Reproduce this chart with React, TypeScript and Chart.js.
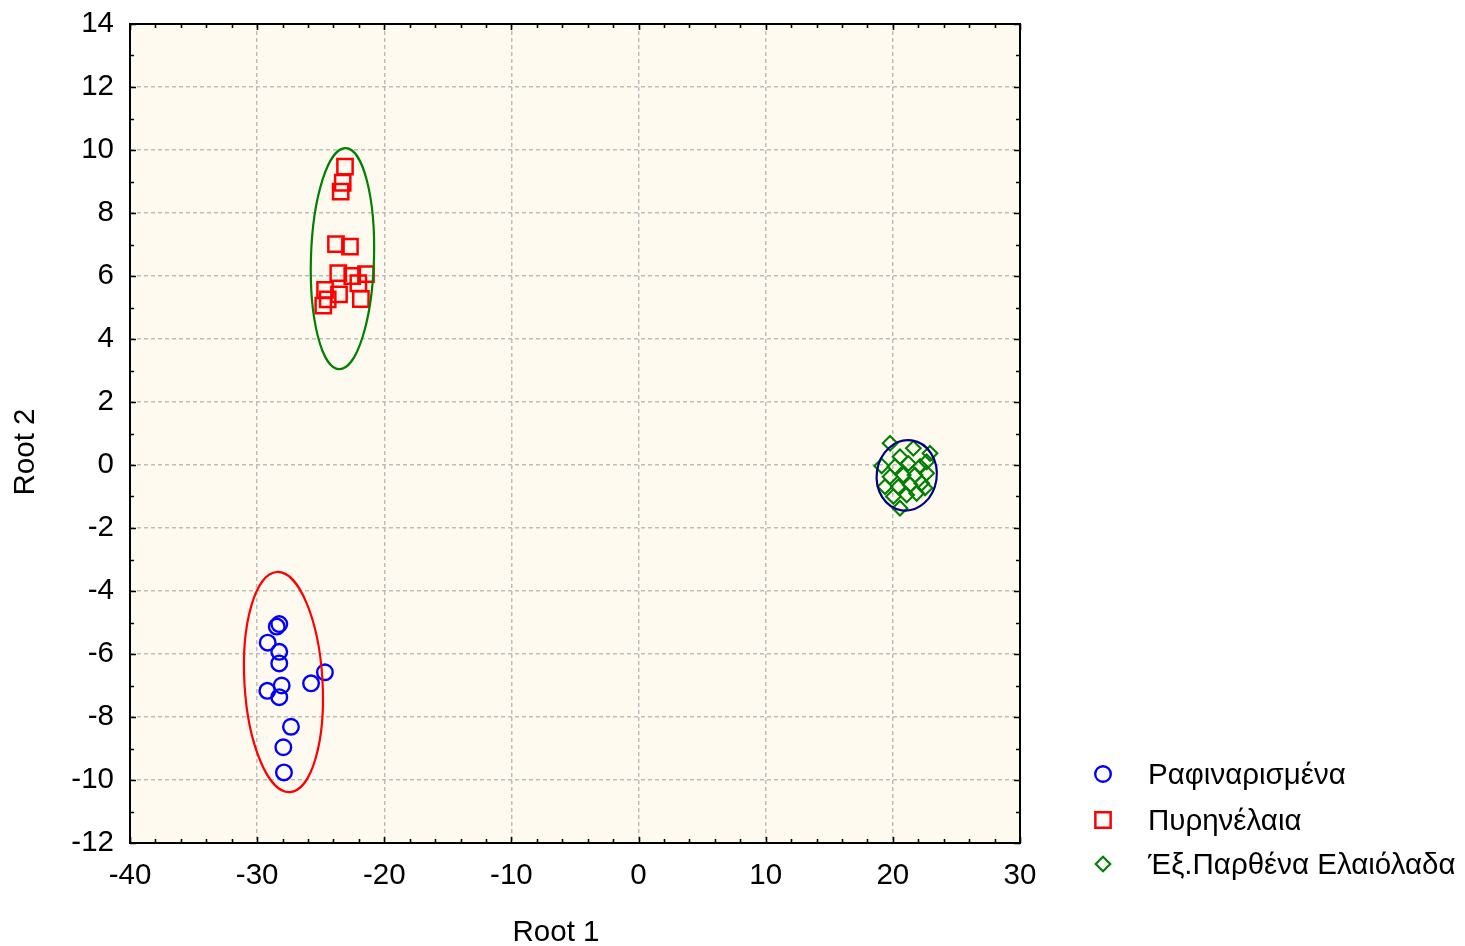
import React, { useEffect, useRef } from "react";
import { Chart, registerables } from "chart.js";
import { drawPoint } from "chart.js/helpers";

Chart.register(...registerables);

const FONT = "'Liberation Sans', Arial, sans-serif";
const FONT_SIZE = 29.5;

// Group names
const groupNames = ["Ραφιναρισμένα", "Πυρηνέλαια", "Έξ.Παρθένα Ελαιόλαδα"];

// Root 1 / Root 2 scores – refined oils
const refinedX = [-28.26, -28.46, -29.17, -28.26, -28.26, -24.67, -25.76, -28.07, -29.2, -28.26, -27.34, -27.94, -27.89];
const refinedY = [-5.05, -5.13, -5.64, -5.93, -6.3, -6.58, -6.93, -7.0, -7.17, -7.37, -8.31, -8.96, -9.76];

// Root 1 / Root 2 scores – pomace oils
const pomaceX = [-23.09, -23.27, -23.43, -23.8, -22.7, -23.62, -22.52, -21.44, -22.04, -24.66, -23.56, -24.45, -24.8, -21.84];
const pomaceY = [9.47, 8.96, 8.68, 7.01, 6.93, 6.09, 6.0, 6.06, 5.77, 5.56, 5.42, 5.26, 5.06, 5.27];

// Root 1 / Root 2 scores – extra virgin olive oils
const virginX = [19.78, 21.61, 22.92, 19.12, 20.56, 21.22, 20.17, 22.14, 22.66, 19.78, 20.82, 21.74, 22.66, 19.38, 20.43, 21.35, 22.27, 20.04, 21.09, 21.87, 20.56, 22.53];
const virginY = [0.69, 0.53, 0.37, -0.03, 0.26, 0.05, -0.05, -0.05, 0.1, -0.37, -0.32, -0.32, -0.26, -0.69, -0.69, -0.63, -0.58, -1.0, -0.95, -0.9, -1.37, -0.73];

// Confidence ellipses: centre, semi-axes (data units) and tilt (degrees)
const ellipseCX = [-27.93, -23.29, 21.09];
const ellipseCY = [-6.89, 6.55, -0.33];
const ellipseRX = [3.07, 2.48, 2.36];
const ellipseRY = [3.5, 3.51, 1.12];
const ellipseTilt = [-3.4, 1.7, 8];
const ellipseColors = ["#ff0000", "#008000", "#000080"];

// Axis ranges and tick steps
const xRange = [-40, 30];
const yRange = [-12, 14];
const xMajorStep = 10;
const xMinorStep = 2;
const yMajorStep = 2;
const yMinorStep = 1;

const markerStyles = [
  { pointStyle: "circle", color: "#0000ff", radius: 7.8, borderWidth: 2.4 },
  { pointStyle: "rect", color: "#ff0000", radius: 10.8, borderWidth: 2.5 },
  { pointStyle: "rectRot", color: "#008000", radius: 7.3, borderWidth: 2.1 },
];

const toPoints = (xs: number[], ys: number[]) => xs.map((x, i) => ({ x, y: ys[i] }));

const plotBackground = {
  id: "plotBackground",
  beforeDraw(chart: any) {
    const { ctx, chartArea: a } = chart;
    ctx.save();
    ctx.fillStyle = "#fffaf0";
    ctx.fillRect(a.left, a.top, a.right - a.left, a.bottom - a.top);
    ctx.restore();
  },
};

const ellipses = {
  id: "ellipses",
  afterDatasetsDraw(chart: any) {
    const { ctx, scales } = chart;
    const xs = scales.x;
    const ys = scales.y;
    const pxPerX = Math.abs(xs.getPixelForValue(1) - xs.getPixelForValue(0));
    const pxPerY = Math.abs(ys.getPixelForValue(1) - ys.getPixelForValue(0));
    ctx.save();
    ellipseCX.forEach((cx, i) => {
      ctx.beginPath();
      ctx.ellipse(
        xs.getPixelForValue(cx),
        ys.getPixelForValue(ellipseCY[i]),
        ellipseRX[i] * pxPerX,
        ellipseRY[i] * pxPerY,
        (ellipseTilt[i] * Math.PI) / 180,
        0,
        Math.PI * 2
      );
      ctx.strokeStyle = ellipseColors[i];
      ctx.lineWidth = 2.2;
      ctx.stroke();
    });
    ctx.restore();
  },
};

const frameAndTicks = {
  id: "frameAndTicks",
  afterDraw(chart: any) {
    const { ctx, chartArea: a, scales } = chart;
    const xs = scales.x;
    const ys = scales.y;
    ctx.save();
    ctx.strokeStyle = "#000";
    ctx.lineWidth = 1.6;
    ctx.beginPath();
    for (let v = xRange[0]; v <= xRange[1] + 1e-9; v += xMinorStep) {
      const len = Math.abs(v % xMajorStep) < 1e-9 ? 6 : 4;
      const px = Math.round(xs.getPixelForValue(v)) + 0.5;
      ctx.moveTo(px, a.bottom);
      ctx.lineTo(px, a.bottom - len);
      ctx.moveTo(px, a.top);
      ctx.lineTo(px, a.top + len);
    }
    for (let v = yRange[0]; v <= yRange[1] + 1e-9; v += yMinorStep) {
      const len = Math.abs(v % yMajorStep) < 1e-9 ? 6 : 4;
      const py = Math.round(ys.getPixelForValue(v)) + 0.5;
      ctx.moveTo(a.left, py);
      ctx.lineTo(a.left + len, py);
      ctx.moveTo(a.right, py);
      ctx.lineTo(a.right - len, py);
    }
    ctx.stroke();
    ctx.lineWidth = 2;
    ctx.strokeRect(a.left, a.top, a.right - a.left, a.bottom - a.top);

    // Axis titles
    ctx.fillStyle = "#000";
    ctx.font = `${FONT_SIZE}px ${FONT}`;
    ctx.textAlign = "center";
    ctx.textBaseline = "middle";
    ctx.fillText("Root 1", 556, 933);
    ctx.save();
    ctx.translate(26, 452);
    ctx.rotate(-Math.PI / 2);
    ctx.fillText("Root 2", 0, 0);
    ctx.restore();

    // Legend
    const legendY = [774, 820, 864];
    groupNames.forEach((name, i) => {
      const m = markerStyles[i];
      ctx.strokeStyle = m.color;
      ctx.fillStyle = "rgba(0,0,0,0)";
      ctx.lineWidth = m.borderWidth;
      drawPoint(ctx, { pointStyle: m.pointStyle, radius: m.radius, rotation: 0, borderWidth: m.borderWidth } as any, 1103, legendY[i]);
      ctx.fillStyle = "#000";
      ctx.textAlign = "left";
      ctx.fillText(name, 1148, legendY[i] + 2);
    });
    ctx.restore();
  },
};

export default function App() {
  const canvasRef = useRef<HTMLCanvasElement | null>(null);

  useEffect(() => {
    if (!canvasRef.current) return;
    const series = [toPoints(refinedX, refinedY), toPoints(pomaceX, pomaceY), toPoints(virginX, virginY)];
    const chart = new Chart(canvasRef.current, {
      type: "scatter",
      data: {
        datasets: series.map((data, i) => ({
          label: groupNames[i],
          data,
          pointStyle: markerStyles[i].pointStyle as any,
          pointRadius: markerStyles[i].radius,
          pointHoverRadius: markerStyles[i].radius,
          borderColor: markerStyles[i].color,
          backgroundColor: "rgba(0,0,0,0)",
          borderWidth: markerStyles[i].borderWidth,
        })),
      },
      options: {
        responsive: false,
        animation: false,
        layout: { padding: { top: 24, right: 445, left: 0, bottom: 0 } },
        plugins: {
          legend: { display: false },
          tooltip: { enabled: false },
        },
        scales: {
          x: {
            type: "linear",
            min: xRange[0],
            max: xRange[1],
            afterFit: (s: any) => {
              s.height = 103;
              s.paddingLeft = 0;
              s.paddingRight = 0;
            },
            ticks: {
              stepSize: xMajorStep,
              padding: 15,
              color: "#000",
              font: { family: FONT, size: FONT_SIZE },
              maxRotation: 0,
            },
            grid: { color: "#bdbdbd", lineWidth: 1.5, drawTicks: false },
            border: { display: false, dash: [4, 3] },
          },
          y: {
            type: "linear",
            min: yRange[0],
            max: yRange[1],
            afterFit: (s: any) => {
              s.width = 130;
              s.paddingTop = 0;
              s.paddingBottom = 0;
            },
            ticks: {
              stepSize: yMajorStep,
              padding: 16,
              color: "#000",
              font: { family: FONT, size: FONT_SIZE },
            },
            grid: { color: "#bdbdbd", lineWidth: 1.5, drawTicks: false },
            border: { display: false, dash: [4, 3] },
          },
        },
      },
      plugins: [plotBackground, ellipses, frameAndTicks],
    });
    return () => chart.destroy();
  }, []);

  return (
    <div style={{ position: "absolute", left: 0, top: 0, width: 1465, height: 946, background: "#fff" }}>
      <canvas ref={canvasRef} width={1465} height={946} style={{ display: "block" }} />
    </div>
  );
}
